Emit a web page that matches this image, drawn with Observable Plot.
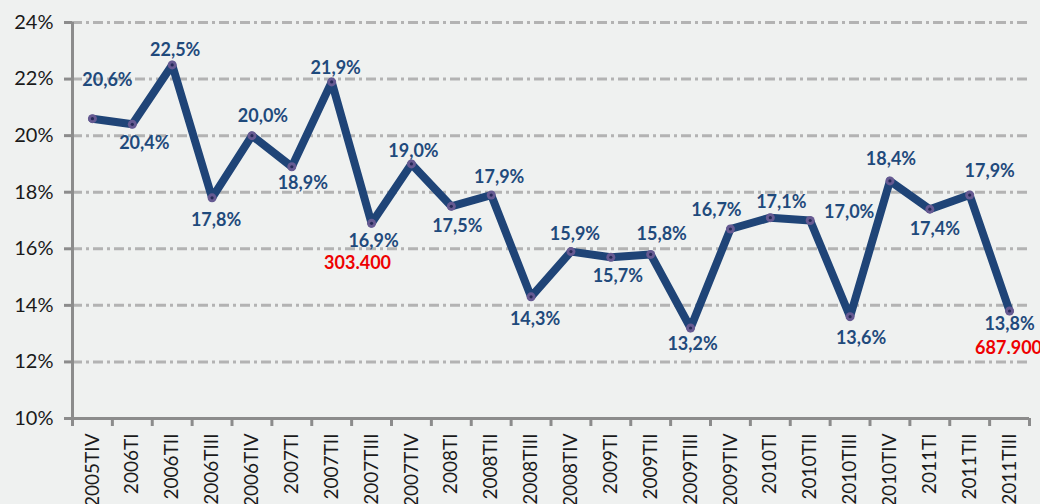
<!DOCTYPE html>
<html>
<head>
<meta charset="utf-8">
<script src="https://cdn.jsdelivr.net/npm/d3@7"></script>
<script src="https://cdn.jsdelivr.net/npm/@observablehq/plot@0.6"></script>
<style>
  html, body { margin: 0; padding: 0; background: #eff1f0; }
  #chart svg { display: block; }
</style>
</head>
<body>
<div id="chart"></div>
<script>
// ---- data ----
const categories = ["2005TIV","2006TI","2006TII","2006TIII","2006TIV","2007TI","2007TII","2007TIII","2007TIV","2008TI","2008TII","2008TIII","2008TIV","2009TI","2009TII","2009TIII","2009TIV","2010TI","2010TII","2010TIII","2010TIV","2011TI","2011TII","2011TIII"];
const values = [20.6, 20.4, 22.5, 17.8, 20.0, 18.9, 21.9, 16.9, 19.0, 17.5, 17.9, 14.3, 15.9, 15.7, 15.8, 13.2, 16.7, 17.1, 17.0, 13.6, 18.4, 17.4, 17.9, 13.8];
const yTicks = [10, 12, 14, 16, 18, 20, 22, 24];
const noteCategories = ["2007TIII", "2011TIII"];
const noteValues = [16.9, 13.8];
const noteTexts = ["303.400", "687.900"];

// ---- layout (label offsets in px) ----
const labelDx = [15, 12, 3, 4, 11, 11, 4, 2, 2, 6, 8, 4, 4, 7, 11, 2, -14, 11, 39, 11, 1, 5, 20, 0];
const labelDy = [-38, 19, -15, 22, -19, 16, -14, 18, -13, 20, -18, 22, -17, 19, -20, 16, -19, -15, -8, 22, -22, 20, -24, 13];
const noteDx = [-14, -1];
const noteDy = [40, 37];

const W = 1040, H = 504, mL = 72, mR = 11, mT = 22, mB = 86;
const bw = (W - mL - mR) / categories.length;

const data = categories.map((c, i) => ({cat: c, v: values[i]}));
const notes = noteCategories.map((c, i) => ({cat: c, v: noteValues[i], t: noteTexts[i]}));
const fmt = v => v.toFixed(1).replace(".", ",") + "%";

const axisGray = "#8c8c8c";
const lineColor = "#1f4477";
const labelColor = "#1f4a7c";

const marks = [
  Plot.gridY(yTicks.filter(t => t > 10), {stroke: "#b3b3b3", strokeOpacity: 1, strokeWidth: 3, strokeDasharray: "10,4,3,4"}),
  Plot.axisY({ticks: yTicks, tickSize: 8, tickPadding: 11, tickFormat: d => d + "%", fontSize: 20, stroke: axisGray, strokeWidth: 3, fill: "#1a1a1a", label: null}),
  Plot.ruleX([categories[0]], {x: d => d, y1: 10, y2: 24, dx: -bw / 2, stroke: axisGray, strokeWidth: 3}),
  Plot.ruleY([10], {stroke: axisGray, strokeWidth: 3}),
  Plot.axisX({tickSize: 8, tickFormat: () => "", dx: -bw / 2, stroke: axisGray, strokeWidth: 3, label: null}),
  Plot.axisX({ticks: [categories[categories.length - 1]], tickSize: 8, tickFormat: () => "", dx: bw / 2, stroke: axisGray, strokeWidth: 3, label: null}),
  Plot.axisX({tickSize: 0, tickPadding: 15, tickRotate: -90, fontSize: 19, fill: "#1a1a1a", label: null}),
  Plot.line(data, {x: "cat", y: "v", stroke: lineColor, strokeWidth: 8, strokeLinejoin: "round", strokeLinecap: "round"}),
  Plot.dot(data, {x: "cat", y: "v", r: 4.5, fill: "#665a92", stroke: "none"}),
  Plot.dot(data, {x: "cat", y: "v", r: 1.6, fill: "#262a58", stroke: "none"}),
  ...data.map((d, i) => Plot.text([d], {x: "cat", y: "v", text: d => fmt(d.v), dx: labelDx[i], dy: labelDy[i], fontSize: 18, fontWeight: "bold", fill: labelColor})),
  ...notes.map((d, i) => Plot.text([d], {x: "cat", y: "v", text: "t", dx: noteDx[i], dy: noteDy[i], fontSize: 18, fontWeight: "bold", fill: "#ee0000"}))
];

const chart = Plot.plot({
  width: W, height: H,
  marginLeft: mL, marginRight: mR, marginTop: mT, marginBottom: mB,
  style: {background: "#eff1f0", fontFamily: "Lato, sans-serif", overflow: "visible"},
  x: {type: "band", domain: categories, padding: 0, round: false, axis: null},
  y: {domain: [10, 24], axis: null},
  marks
});
document.getElementById("chart").append(chart);
</script>
</body>
</html>
